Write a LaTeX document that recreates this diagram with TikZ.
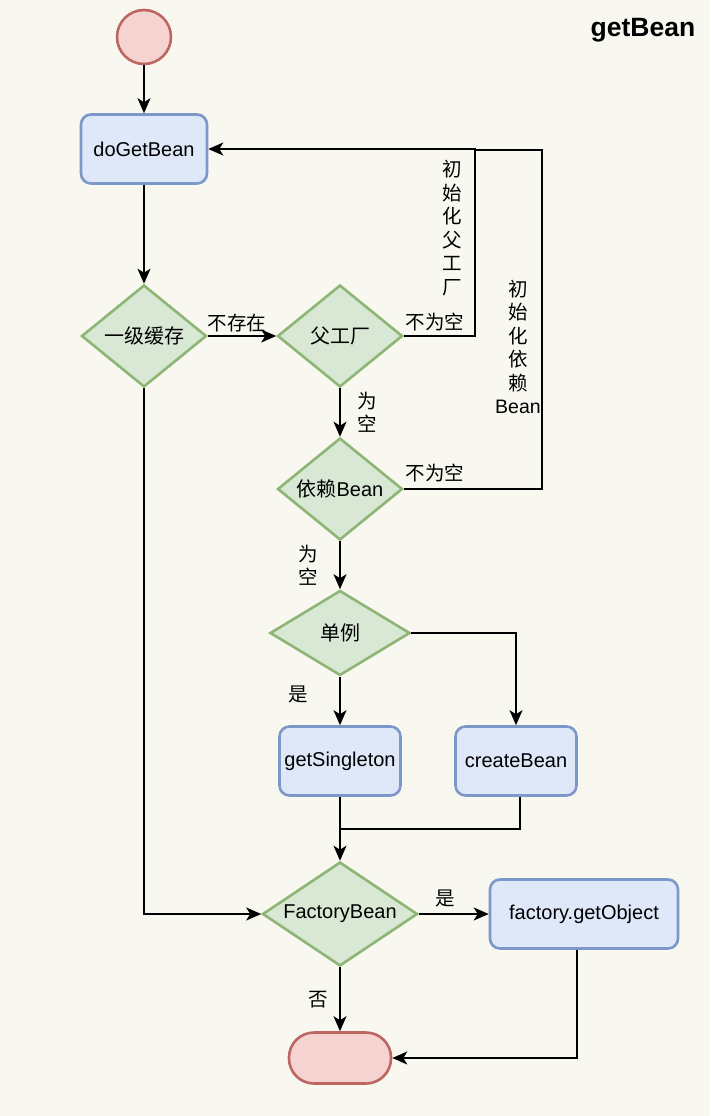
\documentclass[tikz,border=0pt]{standalone}
\usepackage{fontspec}
\setmainfont{Liberation Sans}
\newfontfamily\cjk{Noto Sans CJK SC}
\usetikzlibrary{shapes.geometric,arrows.meta}
\definecolor{paper}{HTML}{F8F7F0}
\definecolor{boxfill}{HTML}{DFE8F9}
\definecolor{boxline}{HTML}{7C98C8}
\definecolor{decfill}{HTML}{D9E8D5}
\definecolor{decline}{HTML}{8DB574}
\definecolor{endfill}{HTML}{F5D3D1}
\definecolor{endline}{HTML}{BE6762}
\tikzset{
  procbox/.style={draw=boxline,fill=boxfill,line width=2.6pt,rounded corners=10pt,
    minimum width=121pt,minimum height=69pt,inner sep=0pt},
  decision/.style={diamond,draw=decline,fill=decfill,line width=2.6pt,aspect=1.5,
    inner sep=0pt,minimum width=125pt,minimum height=102pt},
  terminal/.style={draw=endline,fill=endfill,line width=2.6pt},
  flow/.style={line width=1.7pt,-{Stealth[length=15pt,width=13pt,inset=4pt]}},
  plain/.style={line width=1.7pt},
  note/.style={font=\fontsize{19.5}{23.5}\selectfont\cjk,align=center,inner sep=0pt},
  every node/.style={font=\fontsize{20}{24}\selectfont}
}
\begin{document}
\begin{tikzpicture}[x=1pt,y=-1pt]
\useasboundingbox[fill=paper] (0,0) rectangle (710,1116);
% title
\node[font=\fontsize{26.5}{30}\selectfont\bfseries] (title) at (643,30) {getBean};
% start and end
\node[terminal,circle,minimum size=54pt] (start) at (144,37) {};
\node[terminal,rounded corners=25pt,minimum width=102pt,minimum height=51pt] (end) at (340,1058) {};
% process boxes
\node[procbox,minimum width=126pt] (doget) at (144,149) {doGetBean};
\node[procbox] (getsg) at (340,761) {getSingleton};
\node[procbox] (create) at (516,761) {createBean};
\node[procbox,minimum width=188pt] (fobj) at (584,914) {factory.getObject};
% decisions
\node[decision] (cache) at (144,336) {\cjk 一级缓存};
\node[decision] (parent) at (340,336) {\cjk 父工厂};
\node[decision] (dep) at (340,489) {{\cjk 依赖}Bean};
\node[decision,minimum width=140pt,minimum height=85pt] (single) at (340,633) {\cjk 单例};
\node[decision,minimum width=155pt,minimum height=104pt] (fbean) at (340,914) {FactoryBean};
% bend points
\coordinate (pk) at (475,336);
\coordinate (pt) at (475,150);
\coordinate (dk) at (542,489);
\coordinate (jn) at (340,829);
% connectors
\draw[flow] (start) -- (doget);
\draw[flow] (doget) -- (cache);
\draw[flow] (cache) -- node[note,above=3pt,xshift=-5pt]{不存在} (parent);
\draw[flow] (cache) |- (fbean);
\draw[flow] (parent) -- (pk) |- (doget);
\draw[plain] (dep) -- (dk) |- (pt);
\draw[flow] (parent) -- node[note,right=17pt]{为\\空} (dep);
\draw[flow] (dep) -- node[note,left=21pt]{为\\空} (single);
\draw[flow] (single) -- (getsg);
\draw[flow] (single) -| (create);
\draw[plain] ([xshift=4pt]create.south) |- (jn);
\draw[flow] (getsg) -- (fbean);
\draw[flow] (fbean) -- node[note,above=6pt,xshift=-9pt]{是} (fobj);
\draw[flow] (fbean) -- node[note,left=11pt]{否} (end);
\draw[flow] ([xshift=-7pt]fobj.south) |- (end);
% labels
\node[note] (lbyes) at (298,694) {是};
\node[note] (lbnn1) at (435,322) {不为空};
\node[note] (lbnn2) at (435,473) {不为空};
\node[note] (lbinit1) at (452,228) {初\\始\\化\\父\\工\\厂};
\node[note] (lbinit2) at (518,347) {初\\始\\化\\依\\赖\\{\rmfamily Bean}};
\end{tikzpicture}
\end{document}
